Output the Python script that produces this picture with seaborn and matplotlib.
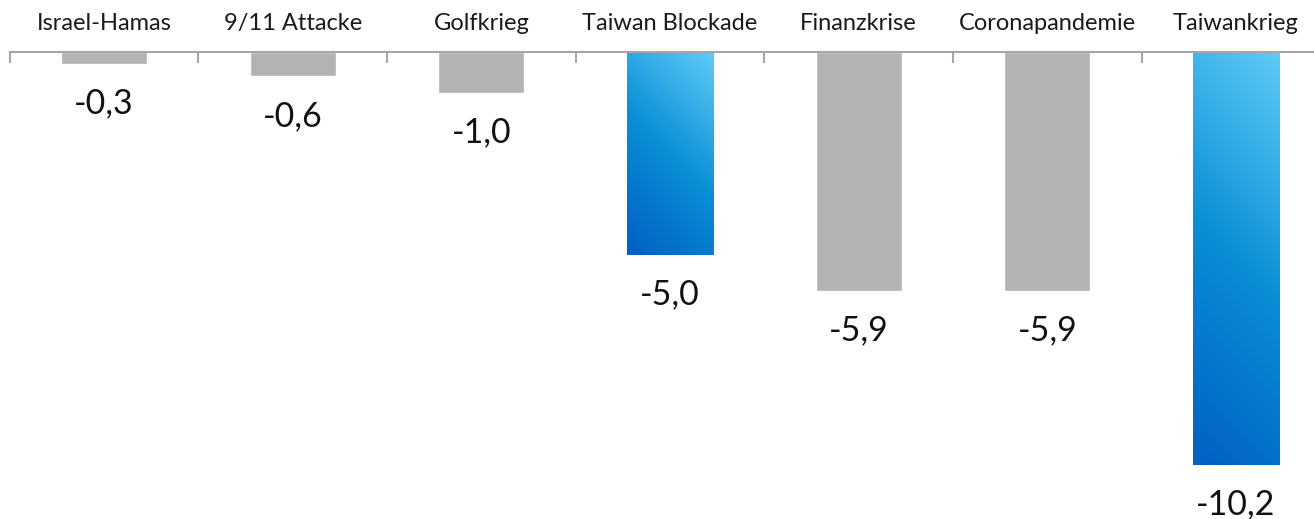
import matplotlib
matplotlib.use("Agg")
import matplotlib.pyplot as plt
import seaborn as sns
import numpy as np
import pandas as pd
from matplotlib.colors import LinearSegmentedColormap

# chart data
categories = ["Israel-Hamas", "9/11 Attacke", "Golfkrieg", "Taiwan Blockade",
              "Finanzkrise", "Coronapandemie", "Taiwankrieg"]
values = [-0.3, -0.6, -1.0, -5.0, -5.9, -5.9, -10.2]
highlight = ["Taiwan Blockade", "Taiwankrieg"]

sns.set_theme(style="white")
plt.rcParams['font.family'] = ['Lato', 'DejaVu Sans']

df = pd.DataFrame({"Ereignis": categories, "Wert": values})

fig = plt.figure(figsize=(13.14, 5.19), dpi=100)
# axis line sits at y=52 px; plot runs past the right edge like the original
ax = fig.add_axes([9.7 / 1314, 0, 1320.6 / 1314, 1 - 52 / 519])

sns.barplot(data=df, x="Ereignis", y="Wert", color="#b3b3b3", saturation=1,
            width=0.456, ax=ax)

ax.set_xlim(-0.5, len(categories) - 0.5)
ax.set_ylim(-11.53, 0)
fig.canvas.draw()

# blue gradient (45 degrees in pixel space) for the highlighted bars
blue = LinearSegmentedColormap.from_list("blau", ["#0060c3", "#0a8fd6", "#5fcbf6"])
for patch, cat in zip(ax.patches, categories):
    if cat in highlight:
        x0 = patch.get_x()
        w = patch.get_width()
        y0 = patch.get_y()
        h = patch.get_height()
        bb = patch.get_window_extent()
        wpx, hpx = bb.width, bb.height
        uu, vv = np.meshgrid(np.linspace(0, wpx, 100), np.linspace(0, hpx, 400))
        grad = (uu + vv) / (wpx + hpx)
        patch.set_facecolor("none")
        im = ax.imshow(grad, cmap=blue, origin="lower", aspect="auto",
                       extent=[x0, x0 + w, min(y0, y0 + h), max(y0, y0 + h)],
                       zorder=patch.get_zorder())
        im.set_clip_path(patch)

ax.set_xlim(-0.5, len(categories) - 0.5)
ax.set_ylim(-11.53, 0)

# value labels below the bars
for i, v in enumerate(values):
    ax.annotate(f"{v:.1f}".replace(".", ","), xy=(i, v), xytext=(0, -28.5),
                textcoords="offset points", ha="center", va="center",
                fontsize=24.5, color="#111111")

# axis on top
for s in ["left", "right", "bottom"]:
    ax.spines[s].set_visible(False)
ax.spines["top"].set_color("#a6a6a6")
ax.spines["top"].set_linewidth(1.5)
ax.xaxis.tick_top()
ax.set_xticks(range(len(categories)))
ax.set_xticklabels(categories, fontsize=17, color="#1a1a1a")
ax.set_xticks(np.arange(-0.5, len(categories), 1), minor=True)
ax.tick_params(axis="x", which="major", length=0, pad=13)
ax.tick_params(axis="x", which="minor", top=True, bottom=False, direction="in",
               length=8, width=1.5, color="#a6a6a6")
ax.set_yticks([])
ax.set_xlabel("")
ax.set_ylabel("")

fig.savefig("out.png", dpi=100)
